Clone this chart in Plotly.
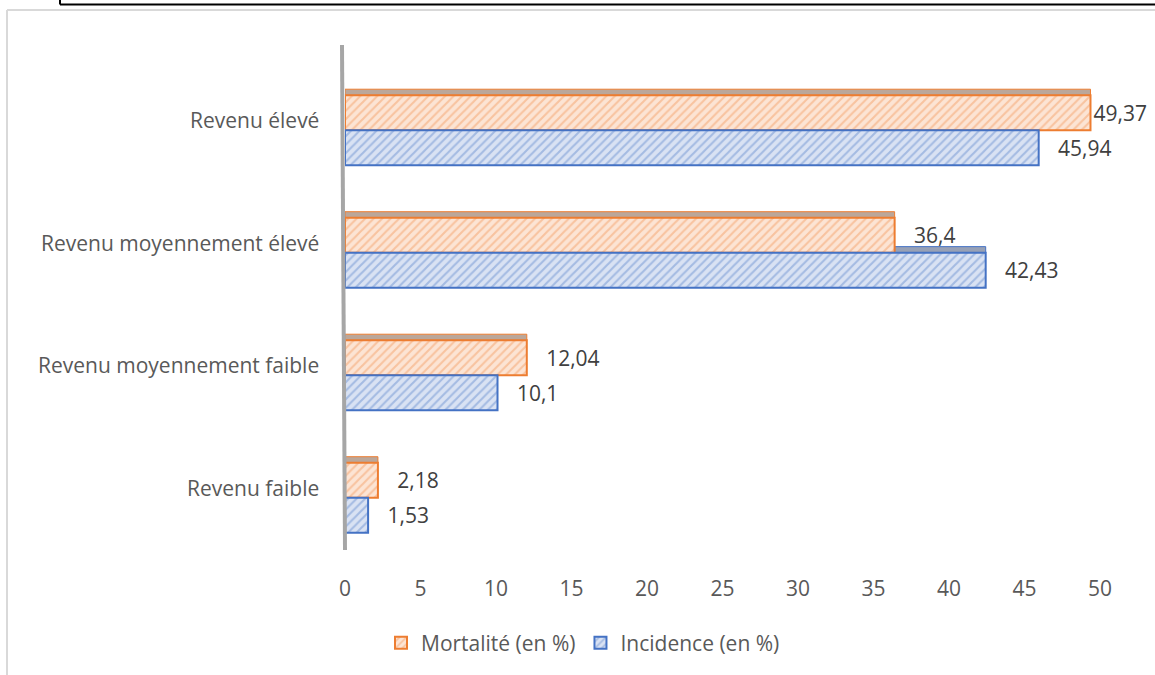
import plotly.graph_objects as go

categories = ["Revenu élevé", "Revenu moyennement élevé", "Revenu moyennement faible", "Revenu faible"]
mortalite = [49.37, 36.4, 12.04, 2.18]
incidence = [45.94, 42.43, 10.1, 1.53]
x_ticks = [0, 5, 10, 15, 20, 25, 30, 35, 40, 45, 50]

def fr(v):
    return str(v).replace(".", ",")

def label(v, xmax=50):
    # leading gap like Excel; squeezed when close to the plot edge
    return fr(v) if v > xmax - 2 else "   " + fr(v)

W, H = 1155, 675
L, R, T, B = 345, 55, 69, 116
PW, PH = W - L - R, H - T - B

def px(x):
    return (x - L) / PW

def py(y):
    return (H - B - y) / PH

FONT = "Open Sans"
FS = 21
ORANGE, ORANGE_BG = "#ED7D31", "#FCE4D4"
BLUE, BLUE_BG = "#4472C4", "#D9E2F3"
BARGAP = 0.43

fig = go.Figure()
fig.add_trace(go.Bar(
    y=categories, x=mortalite, orientation="h", name="Mortalité (en %)",
    marker=dict(color=ORANGE_BG, line=dict(color=ORANGE, width=2),
                pattern=dict(shape="/", fgcolor="#F4A16A", size=6, solidity=0.35)),
    text=[label(v) for v in mortalite], textposition="outside",
    textfont=dict(family=FONT, size=FS, color="#404040"), cliponaxis=False,
))
fig.add_trace(go.Bar(
    y=categories, x=incidence, orientation="h", name="Incidence (en %)",
    marker=dict(color=BLUE_BG, line=dict(color=BLUE, width=2),
                pattern=dict(shape="/", fgcolor="#6F93D2", size=6, solidity=0.35)),
    text=[label(v) for v in incidence], textposition="outside",
    textfont=dict(family=FONT, size=FS, color="#404040"), cliponaxis=False,
))

bar_h = (1 - BARGAP) / 2
face = 0.05
shapes = [
    dict(type="line", xref="paper", yref="paper", x0=px(342), x1=px(345), y0=py(45), y1=py(550),
         line=dict(color="#A6A6A6", width=4)),
    dict(type="line", xref="paper", yref="paper", x0=px(7), x1=px(1160), y0=py(10), y1=py(10),
         line=dict(color="#D9D9D9", width=2)),
    dict(type="line", xref="paper", yref="paper", x0=px(7), x1=px(7), y0=py(10), y1=py(680),
         line=dict(color="#D9D9D9", width=2)),
    dict(type="line", xref="paper", yref="paper", x0=px(60), x1=px(1160), y0=py(4.5), y1=py(4.5),
         line=dict(color="#000000", width=2)),
    dict(type="line", xref="paper", yref="paper", x0=px(60), x1=px(60), y0=py(-5), y1=py(4.5),
         line=dict(color="#000000", width=2)),
]
# 3D-like top faces (drawn below the bars)
for i, (m, n) in enumerate(zip(mortalite, incidence)):
    top_m = i - bar_h
    shapes.append(dict(type="rect", xref="x", yref="y", layer="below",
                       x0=0, x1=m, y0=top_m - face, y1=top_m,
                       fillcolor="#BBA79A", line=dict(color=ORANGE, width=1)))
    if n > m:
        shapes.append(dict(type="rect", xref="x", yref="y", layer="below",
                           x0=m, x1=n, y0=i - face, y1=i,
                           fillcolor="#97A1B6", line=dict(color=BLUE, width=1)))

annotations = [
    dict(x=0, y=c, xref="x", yref="y", text=c, showarrow=False, xanchor="right",
         xshift=-24, yshift=10, font=dict(family=FONT, size=FS, color="#595959"))
    for c in categories
]

fig.update_layout(
    width=W, height=H, margin=dict(l=L, r=R, t=T, b=B),
    paper_bgcolor="white", plot_bgcolor="white",
    barmode="group", bargap=BARGAP, bargroupgap=0,
    font=dict(family=FONT, size=FS, color="#595959"),
    showlegend=True,
    legend=dict(orientation="h", x=px(583), xanchor="center", y=py(643), yanchor="middle",
                font=dict(family=FONT, size=FS, color="#595959"), itemwidth=30),
    xaxis=dict(range=[0, 50], tickvals=x_ticks, showgrid=False, zeroline=False, showline=False,
               ticks="", ticklabelstandoff=15, tickfont=dict(size=FS, color="#595959")),
    yaxis=dict(autorange="reversed", showgrid=False, zeroline=False, showline=False,
               ticks="", showticklabels=False),
    shapes=shapes,
    annotations=annotations,
)
fig.write_html("out.html", config={"displayModeBar": False},
               post_script="document.body.style.margin='0';")
